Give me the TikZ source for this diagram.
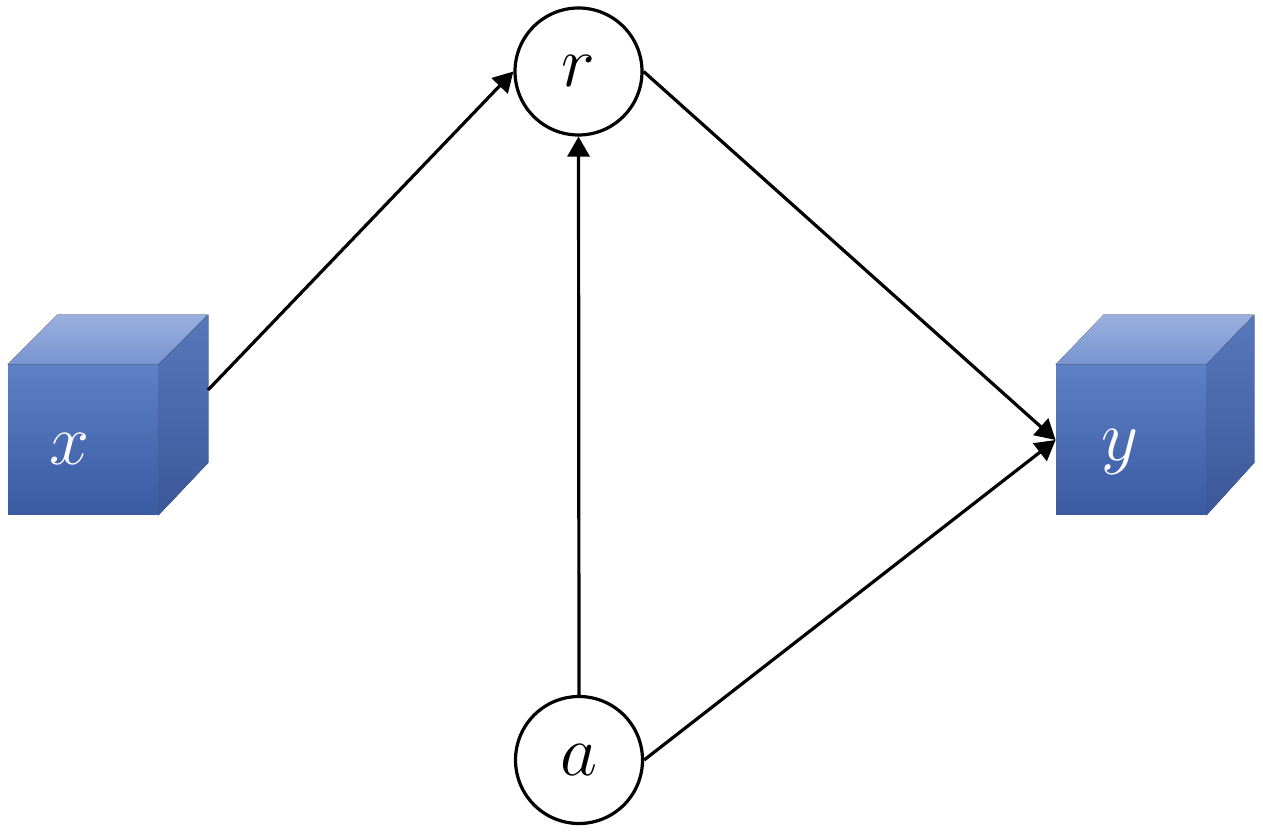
\RequirePackage{fix-cm}
\documentclass[tikz,border=0pt]{standalone}
\usetikzlibrary{arrows.meta,calc}
\definecolor{frontTop}{HTML}{5D80C6}
\definecolor{frontBot}{HTML}{3A5AA2}
\definecolor{topA}{HTML}{9AB0DE}
\definecolor{topB}{HTML}{7894D0}
\definecolor{sideA}{HTML}{5878BC}
\definecolor{sideB}{HTML}{3B5799}
\tikzset{
  var/.style={circle,draw=black,line width=1.6pt,minimum size=63.5pt,inner sep=0pt,font=\fontsize{36}{38}\selectfont},
  cubefront/.style={rectangle,minimum width=75pt,minimum height=75pt,inner sep=0pt,top color=frontTop,bottom color=frontBot},
  cubelabel/.style={inner sep=0pt,text=white,font=\fontsize{36}{38}\selectfont},
  cubetop/.style={top color=topA,bottom color=topB,draw=none},
  cubeside/.style={top color=sideA,bottom color=sideB,draw=none},
  conn/.style={line width=1.6pt,-{Triangle[length=10pt,width=11pt]}},
}
\begin{document}
\begin{tikzpicture}[x=0.5pt,y=-0.5pt]
\useasboundingbox (0,0) rectangle (1263,833);
% cube x
\node[cubefront] (xb) at (83,440) {};
\fill[cubetop] (xb.north west) -- ++(50,-50) -- ++(150,0) -- (xb.north east) -- cycle;
\fill[cubeside] (xb.north east) -- ++(50,-50) -- ++(0,148) -- (xb.south east) -- cycle;
\node[cubelabel] (xl) at (70,449) {$x$};
\coordinate (xs) at (208,390);
% cube y
\node[cubefront] (yb) at (1131,440) {};
\fill[cubetop] (yb.north west) -- ++(48,-50) -- ++(150,0) -- (yb.north east) -- cycle;
\fill[cubeside] (yb.north east) -- ++(48,-50) -- ++(0,148) -- (yb.south east) -- cycle;
\node[cubelabel] (yl) at (1120,452) {$y$};
% circles
\node[var] (r) at (578.5,71.5) {$r$};
\node[var] (a) at (579,760) {$a$};
% connectors
\draw[conn] (xs) -- (r.west);
\draw[conn] (a.north) -- (r.south);
\draw[conn] (r.east) -- (yb.west);
\draw[conn] (a.east) -- (yb.west);
\end{tikzpicture}
\end{document}
